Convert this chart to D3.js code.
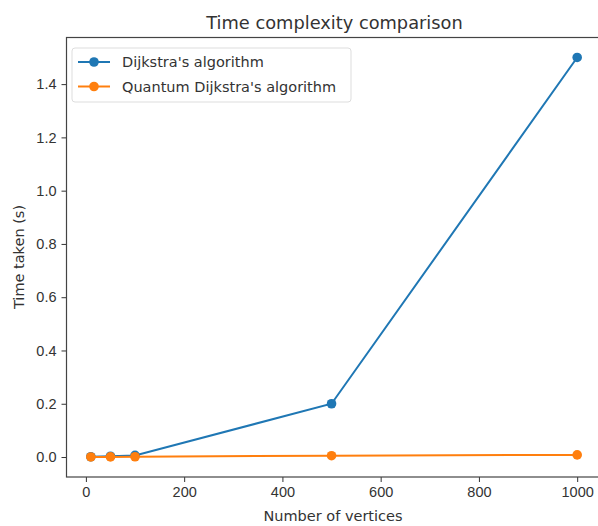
<!DOCTYPE html>
<html>
<head>
<meta charset="utf-8">
<script src="https://cdn.jsdelivr.net/npm/d3@7"></script>
<style>
  body { margin: 0; background: #fff; }
  svg { font-family: "DejaVu Sans", sans-serif; }
</style>
</head>
<body>
<svg id="chart" width="598" height="526"></svg>
<script>
const vertices = [10, 50, 100, 500, 1000];
const dijkstraTimes = [0.001, 0.003, 0.006, 0.2, 1.5];
const quantumTimes = [0.0002, 0.0005, 0.001, 0.005, 0.008];
const xTicks = [0, 200, 400, 600, 800, 1000];
const yTicks = [0.0, 0.2, 0.4, 0.6, 0.8, 1.0, 1.2, 1.4];
const seriesNames = ["Dijkstra's algorithm", "Quantum Dijkstra's algorithm"];
const colors = ["#1f77b4", "#ff7f0e"];

const margin = {top: 37.5, right: -3.5, bottom: 49, left: 66.5};
const width = 598 - margin.left - margin.right;
const height = 526 - margin.top - margin.bottom;

const svg = d3.select("#chart");
const g = svg.append("g")
    .attr("transform", `translate(${margin.left},${margin.top})`);

const x = d3.scaleLinear()
    .domain([-39.5, 1049.5])
    .range([0, width]);

const y = d3.scaleLinear()
    .domain([-0.075, 1.575])
    .range([height, 0]);

// axes
const xAxis = g.append("g")
    .attr("transform", `translate(0,${height})`)
    .call(d3.axisBottom(x).tickValues(xTicks).tickFormat(d3.format("d")).tickSizeOuter(0).tickSize(5).tickPadding(5));

const yAxis = g.append("g")
    .call(d3.axisLeft(y).tickValues(yTicks).tickFormat(d3.format(".1f")).tickSizeOuter(0).tickSize(5).tickPadding(5));

[xAxis, yAxis].forEach(a => {
    a.select(".domain").remove();
    a.selectAll(".tick line").attr("stroke", "#333").attr("stroke-width", 1);
    a.selectAll(".tick text").attr("font-size", 14.5).attr("fill", "#333");
});

// frame
g.append("rect")
    .attr("width", width)
    .attr("height", height)
    .attr("fill", "none")
    .attr("stroke", "#444")
    .attr("stroke-width", 1.2);

const series = [dijkstraTimes, quantumTimes];
const line = d3.line()
    .x(d => x(d[0]))
    .y(d => y(d[1]));

series.forEach((vals, i) => {
    const pts = vertices.map((v, j) => [v, vals[j]]);
    g.append("path")
        .datum(pts)
        .attr("fill", "none")
        .attr("stroke", colors[i])
        .attr("stroke-width", 2)
        .attr("d", line);
    g.selectAll(".dot" + i)
        .data(pts)
        .enter()
        .append("circle")
        .attr("cx", d => x(d[0]))
        .attr("cy", d => y(d[1]))
        .attr("r", 4.8)
        .attr("fill", colors[i]);
});

// title and labels
svg.append("text")
    .attr("x", 334.5)
    .attr("y", 29)
    .attr("text-anchor", "middle")
    .attr("font-size", 17.8)
    .attr("fill", "#333")
    .text("Time complexity comparison");

svg.append("text")
    .attr("x", 333)
    .attr("y", 521)
    .attr("text-anchor", "middle")
    .attr("font-size", 14.5)
    .attr("fill", "#333")
    .text("Number of vertices");

svg.append("text")
    .attr("transform", "translate(24,257) rotate(-90)")
    .attr("text-anchor", "middle")
    .attr("font-size", 14.5)
    .attr("fill", "#333")
    .text("Time taken (s)");

// legend
const legend = g.append("g").attr("transform", "translate(5.5,10.5)");
legend.append("rect")
    .attr("width", 279)
    .attr("height", 54)
    .attr("rx", 3)
    .attr("fill", "#fff")
    .attr("fill-opacity", 0.8)
    .attr("stroke", "#ddd");

seriesNames.forEach((name, i) => {
    const row = legend.append("g").attr("transform", `translate(0,${14 + i * 24.5})`);
    row.append("line")
        .attr("x1", 6).attr("x2", 38)
        .attr("stroke", colors[i])
        .attr("stroke-width", 2);
    row.append("circle")
        .attr("cx", 22).attr("r", 4.8)
        .attr("fill", colors[i]);
    row.append("text")
        .attr("x", 50)
        .attr("y", 5)
        .attr("font-size", 14.5)
        .attr("fill", "#333")
        .text(name);
});
</script>
</body>
</html>
